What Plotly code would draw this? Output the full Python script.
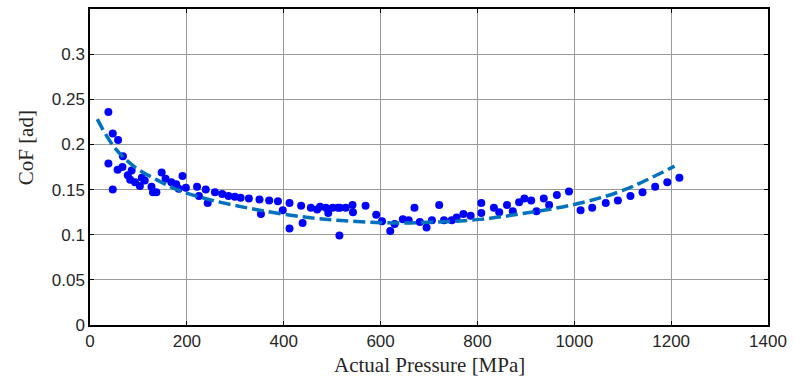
import plotly.graph_objects as go

# Measured friction coefficient vs. actual contact pressure
pressure = [38, 47, 58, 68, 38, 57, 67, 47, 78, 86, 83, 93, 107, 113, 103, 127, 130, 137,
            148, 156, 168, 183, 191, 178, 198, 221, 225, 239, 243, 258, 273, 286, 299, 311,
            328, 350, 353, 370, 388, 398, 412, 412, 436, 439, 456, 469, 475, 487, 492, 501,
            512, 516, 528, 515, 542, 543, 569, 591, 603, 620, 629, 646, 658, 670, 681, 695,
            706, 721, 731, 747, 757, 771, 786, 808, 808, 834, 845, 861, 873, 886, 897, 911,
            922, 937, 948, 964, 989, 1013, 1037, 1065, 1090, 1116, 1141, 1167, 1192, 1217]
cof = [0.236, 0.212, 0.205, 0.187, 0.179, 0.172, 0.175, 0.150, 0.166, 0.171, 0.161, 0.158,
       0.163, 0.160, 0.154, 0.153, 0.147, 0.147, 0.169, 0.162, 0.158, 0.151, 0.165, 0.156,
       0.152, 0.153, 0.143, 0.150, 0.135, 0.147, 0.145, 0.143, 0.142, 0.141, 0.140, 0.139,
       0.123, 0.138, 0.137, 0.127, 0.135, 0.107, 0.132, 0.113, 0.130, 0.128, 0.131, 0.130,
       0.124, 0.130, 0.130, 0.130, 0.130, 0.099, 0.133, 0.125, 0.132, 0.122, 0.115, 0.104,
       0.112, 0.117, 0.116, 0.130, 0.114, 0.108, 0.116, 0.133, 0.116, 0.116, 0.119, 0.123,
       0.121, 0.135, 0.124, 0.130, 0.125, 0.133, 0.126, 0.136, 0.140, 0.138, 0.126, 0.140,
       0.133, 0.144, 0.148, 0.127, 0.130, 0.135, 0.138, 0.143, 0.147, 0.153, 0.158, 0.163]

# Fitted trend curve
fit_pressure = [15, 50, 90, 137, 184, 253, 342, 451, 540, 629, 711, 806, 900, 1004, 1100, 1207]
fit_cof = [0.228, 0.197, 0.176, 0.161, 0.149, 0.138, 0.128, 0.119, 0.115, 0.113, 0.114,
           0.117, 0.124, 0.134, 0.149, 0.176]

x_ticks = [0, 200, 400, 600, 800, 1000, 1200, 1400]
y_ticks = [0, 0.05, 0.1, 0.15, 0.2, 0.25, 0.3]

fig = go.Figure()
fig.add_trace(go.Scatter(
    x=pressure, y=cof, mode="markers",
    marker=dict(color="#0000FF", size=8, line=dict(width=0)),
    showlegend=False,
))
fig.add_trace(go.Scatter(
    x=fit_pressure, y=fit_cof, mode="lines",
    line=dict(color="#0072BD", width=3.5, dash="12px,5px", shape="spline", smoothing=1.0),
    showlegend=False,
))

axis_common = dict(
    showline=True, linecolor="black", linewidth=1.5, mirror="ticks",
    ticks="inside", ticklen=4, tickcolor="black", tickwidth=1,
    showgrid=True, gridcolor="#9a9a9a", gridwidth=1, zeroline=False,
    tickfont=dict(family="Liberation Sans, Arial", size=17, color="#262626"),
)

fig.update_xaxes(range=[0, 1400], tickvals=x_ticks,
                 ticktext=[str(v) for v in x_ticks], **axis_common)
fig.update_yaxes(range=[0, 0.35], tickvals=y_ticks,
                 ticktext=["0", "0.05", "0.1", "0.15", "0.2", "0.25", "0.3"], **axis_common)

fig.add_annotation(
    text="Actual Pressure [MPa]", xref="paper", yref="paper",
    x=0.5, y=-0.128, yanchor="middle", xanchor="center", showarrow=False,
    font=dict(family="Liberation Serif, Times New Roman", size=21, color="#262626"),
)
fig.add_annotation(
    text="CoF [ad]", xref="paper", yref="paper",
    x=-0.094, y=0.56, xanchor="center", yanchor="middle", textangle=-90, showarrow=False,
    font=dict(family="Liberation Serif, Times New Roman", size=21, color="#262626"),
)

fig.update_layout(
    width=794, height=381,
    margin=dict(l=90, r=21, t=7, b=56),
    plot_bgcolor="white", paper_bgcolor="white",
)

fig.write_html("out.html")
